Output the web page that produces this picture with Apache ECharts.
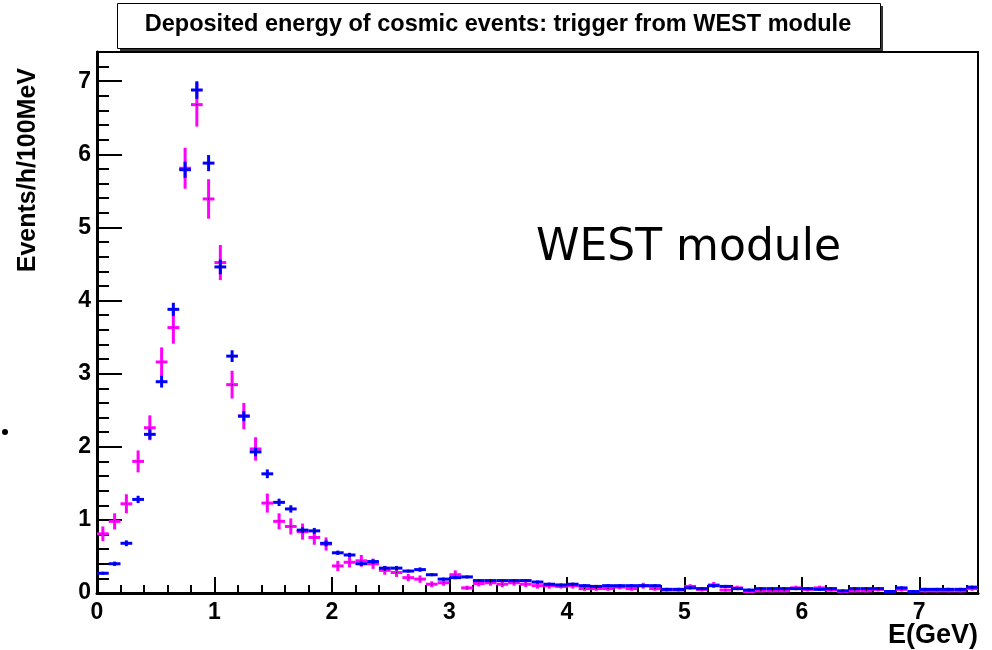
<!DOCTYPE html>
<html>
<head>
<meta charset="utf-8">
<title>Deposited energy of cosmic events</title>
<script src="https://cdn.jsdelivr.net/npm/echarts@6/dist/echarts.min.js"></script>
<style>
  html, body { margin: 0; padding: 0; background: #fff; }
  #chart { width: 992px; height: 650px; }
</style>
</head>
<body>
<div id="chart"></div>
<script>
// Histogram binning: 100 MeV bins from 0 to 7.5 GeV
const BIN_WIDTH = 0.1;
const N_BINS = 75;
const binCenters = Array.from({ length: N_BINS }, (_, i) => +(BIN_WIDTH * (i + 0.5)).toFixed(2));

// Events/h/100MeV, first data set (blue)
const blueRate = [
  0.27, 0.40, 0.68, 1.28, 2.17, 2.89, 3.88, 5.79, 6.88, 5.88,
  4.46, 3.24, 2.42, 1.93, 1.63, 1.24, 1.15, 0.86, 0.85, 0.68,
  0.55, 0.52, 0.40, 0.43, 0.34, 0.34, 0.30, 0.32, 0.25, 0.19,
  0.21, 0.22, 0.17, 0.17, 0.17, 0.17, 0.17, 0.15, 0.12, 0.11,
  0.12, 0.10, 0.09, 0.10, 0.10, 0.10, 0.10, 0.10, 0.05, 0.05,
  0.07, 0.06, 0.10, 0.09, 0.06, 0.04, 0.06, 0.06, 0.06, 0.06,
  0.06, 0.05, 0.06, 0.03, 0.06, 0.06, 0.06, 0.02, 0.07, 0.02,
  0.05, 0.05, 0.05, 0.05, 0.08
];
const blueErr = [
  0.02, 0.03, 0.04, 0.05, 0.07, 0.08, 0.09, 0.11, 0.12, 0.11,
  0.10, 0.08, 0.07, 0.06, 0.06, 0.05, 0.05, 0.04, 0.04, 0.04,
  0.03, 0.03, 0.03, 0.03, 0.03, 0.03, 0.02, 0.03, 0.02, 0.02,
  0.02, 0.02, 0.02, 0.02, 0.02, 0.02, 0.02, 0.02, 0.02, 0.01,
  0.02, 0.01, 0.01, 0.01, 0.01, 0.01, 0.01, 0.01, 0.01, 0.01,
  0.01, 0.01, 0.01, 0.01, 0.01, 0.01, 0.01, 0.01, 0.01, 0.01,
  0.01, 0.01, 0.01, 0.01, 0.01, 0.01, 0.01, 0.01, 0.01, 0.01,
  0.01, 0.01, 0.01, 0.01, 0.01
];

// Events/h/100MeV, second data set (magenta)
const magentaRate = [
  0.81, 0.98, 1.22, 1.80, 2.26, 3.16, 3.63, 5.81, 6.68, 5.39,
  4.52, 2.85, 2.42, 1.97, 1.23, 0.98, 0.91, 0.84, 0.76, 0.67,
  0.37, 0.42, 0.44, 0.40, 0.31, 0.28, 0.21, 0.19, 0.12, 0.14,
  0.25, 0.07, 0.13, 0.14, 0.12, 0.14, 0.12, 0.10, 0.10, 0.09,
  0.10, 0.06, 0.06, 0.06, 0.08, 0.06, 0.10, 0.06, 0.04, 0.04,
  0.09, 0.05, 0.11, 0.04, 0.07, 0.02, 0.03, 0.03, 0.03, 0.07,
  0.05, 0.07, 0.04, 0.02, 0.03, 0.03, 0.05, 0.02, 0.05, 0.01,
  0.03, 0.03, 0.03, 0.03, 0.06
];
const magentaErr = [
  0.10, 0.11, 0.13, 0.15, 0.17, 0.20, 0.22, 0.28, 0.30, 0.27,
  0.24, 0.19, 0.18, 0.16, 0.13, 0.11, 0.11, 0.11, 0.10, 0.09,
  0.07, 0.07, 0.08, 0.07, 0.06, 0.06, 0.05, 0.05, 0.04, 0.04,
  0.06, 0.03, 0.04, 0.04, 0.04, 0.04, 0.04, 0.04, 0.04, 0.03,
  0.04, 0.03, 0.03, 0.03, 0.03, 0.03, 0.04, 0.03, 0.02, 0.02,
  0.03, 0.03, 0.04, 0.02, 0.03, 0.02, 0.02, 0.02, 0.02, 0.03,
  0.03, 0.03, 0.02, 0.02, 0.02, 0.02, 0.03, 0.02, 0.03, 0.01,
  0.02, 0.02, 0.02, 0.02, 0.03
];

// Axis ticks and labels
const xMajorTicks = [0, 1, 2, 3, 4, 5, 6, 7];
const yMajorTicks = [0, 1, 2, 3, 4, 5, 6, 7];
const X_MAX = 7.5;
const Y_MAX = 7.4;
const X_TITLE = 'E(GeV)';
const Y_TITLE = 'Events/h/100MeV';

const xMinorTicks = [];
for (let v = 0; v <= X_MAX + 1e-9; v += 0.2) xMinorTicks.push(+v.toFixed(1));
const yMinorTicks = [];
for (let v = 0; v <= Y_MAX + 1e-9; v += 0.2) yMinorTicks.push(+v.toFixed(1));

const BLUE = '#0000ff';
const MAGENTA = '#ff00ff';
const LABEL_FONT = '"Liberation Sans", Arial, Helvetica, sans-serif';

function toRows(rate, err) {
  return binCenters.map((x, i) => [x, rate[i], err[i]]);
}

// Each bin is drawn as a cross: horizontal bar over the bin width, vertical error bar
function crossRenderer(color) {
  return function (params, api) {
    const x = api.value(0), y = api.value(1), e = api.value(2);
    const pL = api.coord([x - BIN_WIDTH / 2, y]);
    const pR = api.coord([x + BIN_WIDTH / 2, y]);
    const pT = api.coord([x, y + e]);
    const pB = api.coord([x, y - e]);
    const halfV = Math.max(1.5, (pB[1] - pT[1]) / 2);
    return {
      type: 'group',
      children: [
        { type: 'line', shape: { x1: pL[0], y1: pL[1], x2: pR[0], y2: pR[1] },
          style: { stroke: color, lineWidth: 3 } },
        { type: 'line', shape: { x1: pT[0], y1: pL[1] - halfV, x2: pB[0], y2: pL[1] + halfV },
          style: { stroke: color, lineWidth: 3 } },
        { type: 'rect', shape: { x: pL[0] + (pR[0] - pL[0]) / 2 - 0.5, y: pL[1] - 0.5, width: 1, height: 1 },
          style: { fill: '#000' } }
      ]
    };
  };
}

const chart = echarts.init(document.getElementById('chart'), null, { renderer: 'canvas' });

const grid = {
  left: 97, right: 14, top: 52, bottom: 57,
  outerBoundsMode: 'none', containLabel: false,
  show: true, borderColor: '#000', borderWidth: 2, backgroundColor: 'transparent'
};

chart.setOption({
  animation: false,
  backgroundColor: '#fff',
  grid: [grid, Object.assign({}, grid, { show: false })],
  xAxis: [
    {
      type: 'value', gridIndex: 0, min: 0, max: X_MAX,
      axisLine: { show: true, onZero: false, lineStyle: { color: '#000', width: 3 } },
      axisTick: { show: true, inside: true, length: 16, customValues: xMajorTicks, lineStyle: { color: '#000', width: 2 } },
      axisLabel: { show: true, customValues: xMajorTicks, margin: 8, fontFamily: LABEL_FONT, fontWeight: 'bold', fontSize: 23, color: '#000' },
      splitLine: { show: false }
    },
    {
      type: 'value', gridIndex: 1, min: 0, max: X_MAX,
      axisLine: { show: false },
      axisTick: { show: true, inside: true, length: 8, customValues: xMinorTicks, lineStyle: { color: '#000', width: 2 } },
      axisLabel: { show: false },
      splitLine: { show: false }
    }
  ],
  yAxis: [
    {
      type: 'value', gridIndex: 0, min: 0, max: Y_MAX,
      name: Y_TITLE, nameLocation: 'end', nameRotate: 90, nameGap: 0,
      nameTextStyle: { fontFamily: LABEL_FONT, fontWeight: 'bold', fontSize: 25, color: '#000',
        align: 'right', verticalAlign: 'bottom', padding: [0, 16, 56, 0] },
      axisLine: { show: true, onZero: false, lineStyle: { color: '#000', width: 3 } },
      axisTick: { show: true, inside: true, length: 25, customValues: yMajorTicks, lineStyle: { color: '#000', width: 2 } },
      axisLabel: { show: true, customValues: yMajorTicks, margin: 6, fontFamily: LABEL_FONT, fontWeight: 'bold', fontSize: 23, color: '#000' },
      splitLine: { show: false }
    },
    {
      type: 'value', gridIndex: 1, min: 0, max: Y_MAX,
      axisLine: { show: false },
      axisTick: { show: true, inside: true, length: 12, customValues: yMinorTicks, lineStyle: { color: '#000', width: 2 } },
      axisLabel: { show: false },
      splitLine: { show: false }
    }
  ],
  series: [
    {
      name: 'magenta', type: 'custom', xAxisIndex: 0, yAxisIndex: 0,
      renderItem: crossRenderer(MAGENTA), data: toRows(magentaRate, magentaErr), clip: true, z: 3
    },
    {
      name: 'blue', type: 'custom', xAxisIndex: 0, yAxisIndex: 0,
      renderItem: crossRenderer(BLUE), data: toRows(blueRate, blueErr), clip: true, z: 4
    }
  ],
  graphic: [
    // title box with drop shadow
    { type: 'rect', z: 10, shape: { x: 120, y: 6, width: 763, height: 45 }, style: { fill: '#333' } },
    { type: 'rect', z: 11, shape: { x: 117.5, y: 3.5, width: 763, height: 45 }, style: { fill: '#fff', stroke: '#000', lineWidth: 1 } },
    { type: 'text', z: 12, x: 498, y: 25, style: { text: 'Deposited energy of cosmic events: trigger from WEST module',
        fontFamily: LABEL_FONT, fontWeight: 'bold', fontSize: 23.5, fill: '#000', align: 'center', verticalAlign: 'middle' } },
    // x axis title, right-aligned to the frame
    { type: 'text', z: 12, x: 978, y: 636, style: { text: X_TITLE,
        fontFamily: LABEL_FONT, fontWeight: 'bold', fontSize: 27, fill: '#000', align: 'right', verticalAlign: 'middle' } },
    // in-plot annotation
    { type: 'text', z: 12, x: 536, y: 249, style: { text: 'WEST module',
        fontFamily: '"Comic Sans MS", "DejaVu Sans", sans-serif', fontSize: 44, fill: '#000', align: 'left', verticalAlign: 'middle' } },
    { type: 'circle', z: 12, shape: { cx: 5, cy: 432, r: 3 }, style: { fill: '#000' } }
  ]
});
</script>
</body>
</html>
